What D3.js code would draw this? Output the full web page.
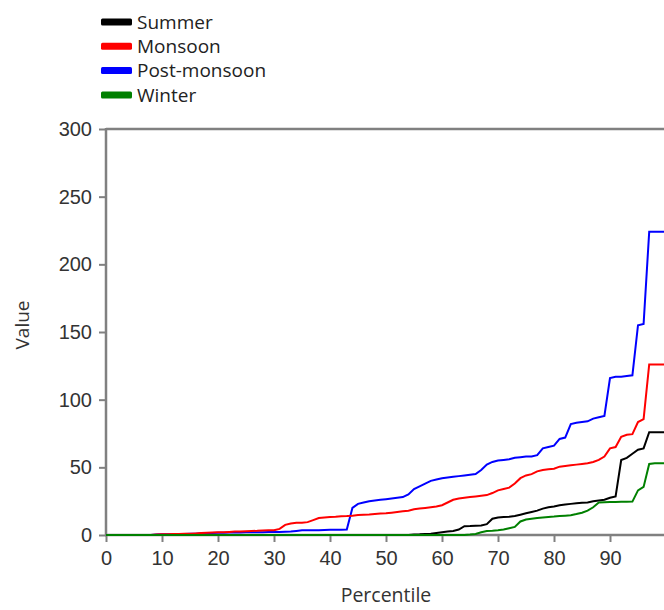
<!DOCTYPE html>
<html>
<head>
<meta charset="utf-8">
<script src="https://cdn.jsdelivr.net/npm/d3@7"></script>
<style>
  body { margin: 0; background: #fff; }
  svg { display: block; font-family: "Segoe UI", "Open Sans", sans-serif; }
</style>
</head>
<body>
<svg width="664" height="610"></svg>
<script>
// percentile positions shared by all series
var percentiles = d3.range(0, 101);

var seasons = ["Summer", "Monsoon", "Post-monsoon", "Winter"];
var seasonColors = ["#000000", "#ff0000", "#0000ff", "#008000"];

var summer = [0,0,0,0,0,0,0,0,0,0, 0,0,0,0,0,0,0,0,0,0,
  0,0,0,0,0,0,0,0,0,0, 0,0,0,0,0,0,0,0,0,0,
  0,0,0,0,0,0,0,0,0,0, 0,0,0,0,0,0.3,0.5,0.8,1,1.5,
  2,2.5,3,4,6.5,6.6,6.8,7,8,12, 13,13.3,13.5,14,15,16,17,18,19.5,20.5,
  21,22,22.5,23,23.5,23.8,24,25,25.5,26, 27.5,28.5,55.4,57,60,63,64,76,76,76, 76];

var monsoon = [0,0,0,0,0,0,0,0,0,0.3, 0.5,0.6,0.7,0.8,0.9,1,1.2,1.4,1.6,1.8,
  2,2.1,2.3,2.5,2.6,2.8,3,3.1,3.3,3.5, 3.6,4.5,7.5,8.5,9,9,9.5,11,12.5,13,
  13.3,13.5,13.8,14,14.3,14.8,15,15.2,15.5,15.8, 16,16.5,17,17.5,18,19,19.5,20,20.5,21,
  22,24,26,27,27.5,28,28.5,29,29.5,31, 33,34,35,38,42,44,45,47,48,48.5,
  49,50.5,51,51.5,52,52.5,53,54,55.5,58, 64,65,72.5,74,74.5,83.5,85.7,126,126,126, 126];

var postMonsoon = [0,0,0,0,0,0,0,0,0,0.3, 0.5,0.5,0.6,0.7,0.8,0.9,1,1.3,1.5,1.5,
  1.6,1.7,1.8,1.8,1.9,2,2,2,2.1,2.2, 2.3,2.3,2.4,2.5,3,3.5,3.5,3.6,3.6,3.7,
  3.8,3.8,3.9,4,20,23,24,25,25.5,26, 26.5,27,27.5,28,30,34,36,38,40,41,
  42,42.5,43,43.5,44,44.5,45,48,52,54, 55,55.5,56,57,57.5,58,58,59,64,65,
  66,71,72,82,83,83.5,84,86,87,88, 116,117,117,117.5,118,155,156,224,224,224, 224];

var winter = [0,0,0,0,0,0,0,0,0,0, 0,0,0,0,0,0,0,0,0,0,
  0,0,0,0,0,0,0,0,0,0, 0,0,0,0,0,0,0,0,0,0,
  0,0,0,0,0,0,0,0,0,0, 0,0,0,0,0,0,0,0,0,0,
  0,0,0,0,0,0.3,0.8,2,3,3.2, 3.5,4,5,6,10,11.5,12,12.5,13,13.3,
  13.6,14,14.3,14.6,15.5,16.5,18,20.5,24,24.2, 24.3,24.4,24.5,24.6,24.7,33,35.5,52.5,53,53, 53];

var yTicks = [0, 50, 100, 150, 200, 250, 300];
var xTicks = [0, 10, 20, 30, 40, 50, 60, 70, 80, 90];

var seriesValues = [summer, monsoon, postMonsoon, winter];

var svg = d3.select("svg");
var axisColor = "#808080";
var textColor = "#333333";

var x = d3.scaleLinear().domain([0, 100]).range([106, 666]);
var y = d3.scaleLinear().domain([0, 300]).range([535, 129]);

// frame (top border, right side is cut off by the window)
svg.append("line")
  .attr("x1", x(0)).attr("x2", x(100))
  .attr("y1", y(300)).attr("y2", y(300))
  .attr("stroke", axisColor).attr("stroke-width", 2.5);

// y axis
var yAxis = svg.append("g")
  .attr("transform", "translate(" + x(0) + ",0)")
  .call(d3.axisLeft(y).tickValues(yTicks).tickSize(7).tickPadding(7).tickSizeOuter(0));

// x axis
var xAxis = svg.append("g")
  .attr("transform", "translate(0," + y(0) + ")")
  .call(d3.axisBottom(x).tickValues(xTicks).tickSize(7).tickPadding(9).tickSizeOuter(0));

[yAxis, xAxis].forEach(function(a) {
  a.select(".domain").attr("stroke", axisColor).attr("stroke-width", 2.5);
  a.selectAll(".tick line").attr("stroke", axisColor).attr("stroke-width", 2);
  a.selectAll(".tick text")
    .attr("fill", textColor)
    .attr("font-size", "20px");
});
xAxis.select(".domain").attr("d", "M" + (x(0) - 1) + ",0H" + x(100));
yAxis.select(".domain").attr("d", "M0," + (y(300) - 1) + "V" + (y(0) + 1));

// lines, drawn over the axes so the zero runs show on the baseline
var line = d3.line()
  .x(function(d, i) { return x(percentiles[i]); })
  .y(function(d) { return y(d); });

var drawOrder = [2, 1, 0, 3];
drawOrder.forEach(function(k) {
  svg.append("path")
    .datum(seriesValues[k])
    .attr("d", line)
    .attr("fill", "none")
    .attr("stroke", seasonColors[k])
    .attr("stroke-width", 2)
    .attr("stroke-linejoin", "miter");
});

// axis titles
svg.append("text")
  .attr("x", 386).attr("y", 602)
  .attr("text-anchor", "middle")
  .attr("fill", textColor)
  .attr("font-size", "19.5px")
  .text("Percentile");

svg.append("text")
  .attr("transform", "translate(29,325) rotate(-90)")
  .attr("text-anchor", "middle")
  .attr("fill", textColor)
  .attr("font-size", "19px")
  .text("Value");

// legend
var legend = svg.append("g").attr("transform", "translate(101,22)");
seasons.forEach(function(name, i) {
  var row = legend.append("g").attr("transform", "translate(0," + (i * 24.3) + ")");
  row.append("rect")
    .attr("x", 0).attr("y", -3.5)
    .attr("width", 31).attr("height", 7)
    .attr("rx", 1.5)
    .attr("fill", seasonColors[i]);
  row.append("text")
    .attr("x", 36).attr("y", 0)
    .attr("dy", "0.36em")
    .attr("fill", "#222")
    .attr("font-size", "19px")
    .text(name);
});
</script>
</body>
</html>
